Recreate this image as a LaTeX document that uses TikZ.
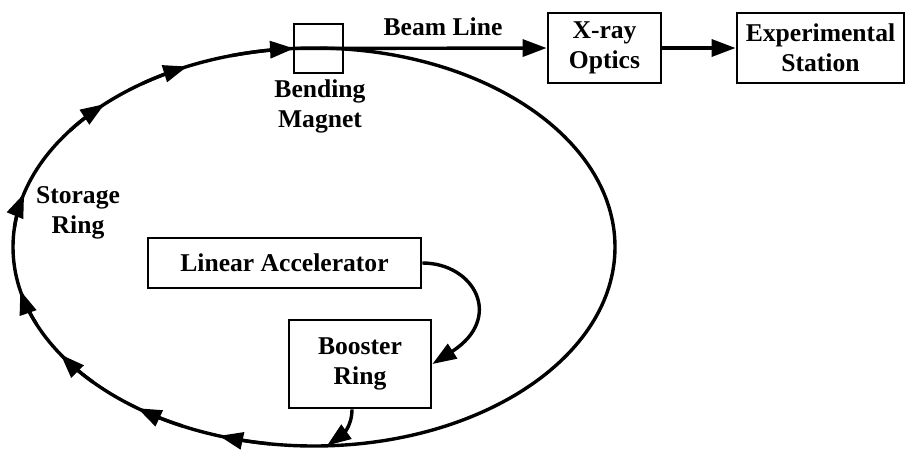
\documentclass[tikz,border=0pt]{standalone}
\usepackage{fontspec}
\setmainfont{Liberation Serif}
\usetikzlibrary{arrows.meta}
\begin{document}
\begin{tikzpicture}[x=0.5pt,y=-0.5pt,
  every node/.style={font=\fontsize{12.8}{15}\selectfont\bfseries, align=center},
  box/.style={draw, line width=1.4pt, inner sep=0pt},
  flow/.style={line width=1.7pt, -{Triangle[length=12pt,width=8.5pt]}},
  ring/.style={line width=1.7pt}]
\useasboundingbox (0,0) rectangle (906,451);

% storage ring
\draw[ring] (314,247) ellipse [x radius=150.5pt, y radius=99.5pt];
% direction marks along the ring
\foreach \t [evaluate=\t as \ts using \t-10] in {108.4,125.9,147.3,167.4,195.6,225.9,245.1}
  \draw[flow] plot[domain=\ts:\t, samples=8, smooth] ({314+301*cos(\x)},{247+199*sin(\x)});

% boxes
\node[box, minimum width=24.5pt, minimum height=24.5pt] (magnet) at (318.5,48.5) {};
\node[box, minimum width=56.5pt, minimum height=35pt] (optics) at (604.5,48) {X-ray\\Optics};
\node[box, minimum width=83.5pt, minimum height=35pt] (station) at (820.5,48) {Experimental\\Station};
\node[box, minimum width=136.5pt, minimum height=25pt] (linac) at (284.5,263) {Linear Accelerator};
\node[box, minimum width=71pt, minimum height=44pt] (booster) at (360,364) {Booster\\Ring};

% labels
\node (beamlbl) at (443,27) {Beam Line};
\node (maglbl) at (320,106) {Bending\\Magnet};
\node (ringlbl) at (78,213) {Storage\\Ring};

% ring arrow into the bending magnet
\draw[flow] plot[domain=254:266.2, samples=8, smooth] ({314+301*cos(\x)},{247+199*sin(\x)});

% beam line and optics chain
\draw[flow] (magnet.west) -- (optics.west);
\draw[flow] (optics) -- (station);

% injection path
\draw[flow] (linac.east) .. controls +(52,0) and +(72,-46) .. (booster.east);
\coordinate (inj) at (327,445.6);
\draw[flow] ([xshift=-4pt]booster.south) .. controls +(0,18) and +(14,-10) .. (inj);
\end{tikzpicture}
\end{document}
